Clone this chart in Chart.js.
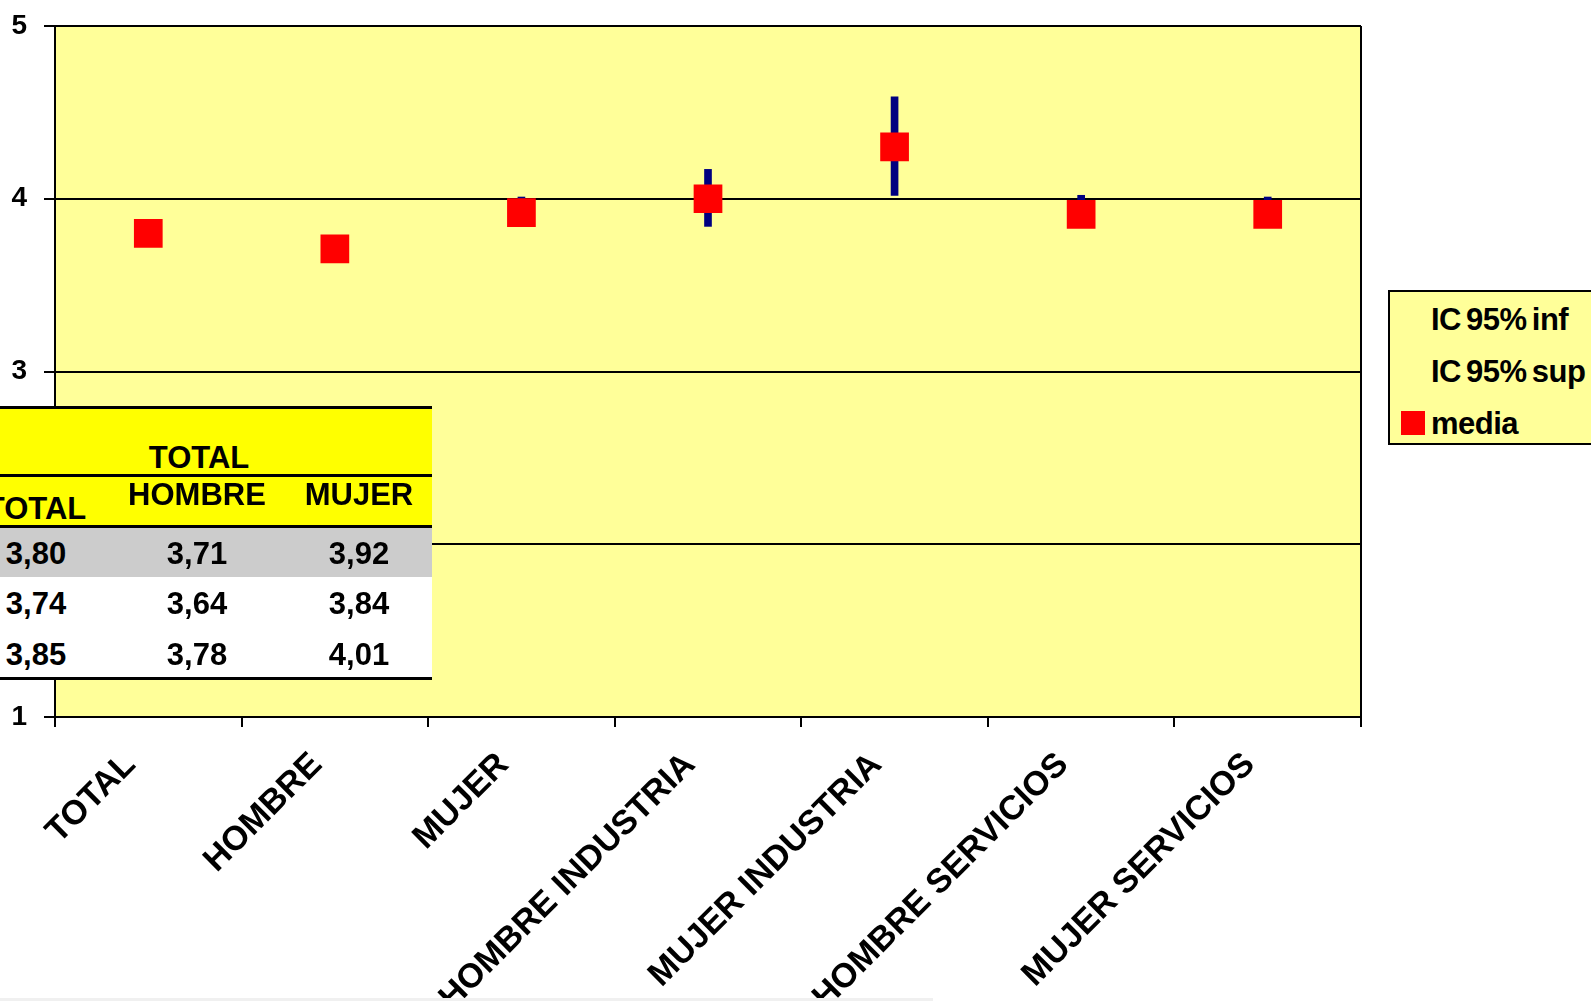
<!DOCTYPE html>
<html>
<head>
<meta charset="utf-8">
<script src="https://cdn.jsdelivr.net/npm/chart.js@4"></script>
<style>
  body { margin: 0; background: #fff; overflow: hidden; }
  #wrap { position: relative; width: 1591px; height: 1001px; overflow: hidden; }
  .t { position: absolute; font: bold 31px "Liberation Sans", Arial, sans-serif; line-height: 31px; color: #000; white-space: nowrap; }
  .c { text-align: center; }
  .blk { position: absolute; }
</style>
</head>
<body>
<div id="wrap">
  <canvas id="myChart"></canvas>
  <div id="tabla"></div>
  <div id="leyenda"></div>
</div>
<script>
const categorias = ["TOTAL", "HOMBRE", "MUJER", "HOMBRE INDUSTRIA", "MUJER INDUSTRIA", "HOMBRE SERVICIOS", "MUJER SERVICIOS"];
const media  = [3.80, 3.71, 3.92, 4.00, 4.30, 3.91, 3.91];
const icInf  = [3.74, 3.64, 3.84, 3.84, 4.02, 3.84, 3.85];
const icSup  = [3.85, 3.78, 4.01, 4.17, 4.59, 4.02, 4.01];
const series = ["IC 95% inf", "IC 95% sup", "media"];
const yTicks = [1, 2, 3, 4, 5];

// fondo amarillo del area del grafico + marco derecho
const plotBg = {
  id: "plotBg",
  beforeDraw(chart) {
    const { ctx, chartArea: a } = chart;
    ctx.save();
    ctx.fillStyle = "#FFFF99";
    ctx.fillRect(a.left, a.top, a.width, a.height);
    ctx.restore();
  },
  beforeDatasetsDraw(chart) {
    const { ctx, chartArea: a } = chart;
    ctx.save();
    ctx.strokeStyle = "#000";
    ctx.lineWidth = 2;
    ctx.beginPath();
    ctx.moveTo(a.right, a.top);
    ctx.lineTo(a.right, a.bottom);
    ctx.stroke();
    ctx.restore();
  }
};

new Chart("myChart", {
  type: "bar",
  data: {
    labels: categorias,
    datasets: [{
      type: "line",
      label: series[2],
      data: media,
      showLine: false,
      pointStyle: "rect",
      pointRadius: 20.3,
      pointBorderWidth: 0,
      backgroundColor: "#FF0000",
      borderColor: "#FF0000",
      order: 0
    }, {
      label: series[0] + " / " + series[1],
      data: categorias.map((c, i) => [icInf[i], icSup[i]]),
      backgroundColor: "#000080",
      barThickness: 7,
      order: 1
    }]
  },
  options: {
    responsive: true,
    maintainAspectRatio: false,
    animation: false,
    layout: { padding: { left: 0, top: 26, right: 230, bottom: 0 } },
    plugins: {
      legend: { display: false },
      tooltip: { enabled: false }
    },
    scales: {
      x: {
        offset: true,
        grid: { offset: true, drawOnChartArea: false, color: "#000", lineWidth: 2, tickLength: 10 },
        border: { color: "#000", width: 2 },
        ticks: {
          color: "#000",
          font: { family: "Liberation Sans", size: 34, weight: "bold" },
          maxRotation: 45, minRotation: 45,
          padding: 18,
          labelOffset: -18,
          autoSkip: false
        },
        afterFit(s) { s.height = 284; s.paddingLeft = 0; s.paddingRight = 0; }
      },
      y: {
        min: 1, max: 5,
        afterBuildTicks(s) { s.ticks = yTicks.map(v => ({ value: v })); },
        grid: { color: "#000", lineWidth: 2, tickLength: 11 },
        border: { color: "#000", width: 2 },
        ticks: {
          color: "#000",
          padding: 17,
          font: { family: "Liberation Sans", size: 28, weight: "bold" }
        },
        afterFit(s) { s.width = 55; s.paddingTop = 0; s.paddingBottom = 0; }
      }
    }
  },
  plugins: [plotBg]
});

// tabla superpuesta
const fmt = v => v.toFixed(2).replace(".", ",");
const tabla = document.getElementById("tabla");
function caja(x, y, w, h, bg) {
  const d = document.createElement("div");
  d.className = "blk";
  d.style.cssText = `left:${x}px;top:${y}px;width:${w}px;height:${h}px;background:${bg}`;
  tabla.appendChild(d);
}
function texto(txt, cx, capTop) {
  const d = document.createElement("div");
  d.className = "t c";
  d.style.left = (cx - 100) + "px";
  d.style.width = "200px";
  d.style.top = (capTop - 4) + "px";
  d.textContent = txt;
  tabla.appendChild(d);
}
caja(0, 407, 432, 68, "#FFFF00");
caja(0, 475, 432, 51, "#FFFF00");
caja(0, 526, 432, 51, "#CCCCCC");
caja(0, 577, 432, 102, "#FFFFFF");
caja(0, 406, 432, 3, "#000");
caja(0, 474, 432, 3, "#000");
caja(0, 525, 432, 3, "#000");
caja(0, 677, 432, 3, "#000");
const colX = [36, 197, 359];
const tablaCols = categorias.slice(0, 3);
texto(tablaCols[0], 199, 446);
texto(tablaCols[0], colX[0], 497);
texto(tablaCols[1], colX[1], 483);
texto(tablaCols[2], colX[2], 483);
[media, icInf, icSup].forEach((fila, r) => {
  for (let c = 0; c < 3; c++) texto(fmt(fila[c]), colX[c], [542, 592, 643][r]);
});

// leyenda
const ley = document.getElementById("leyenda");
ley.style.cssText = "position:absolute;left:1388px;top:290px;width:230px;height:151px;background:#FFFF99;border:2px solid #000;";
series.forEach((s, i) => {
  const d = document.createElement("div");
  d.className = "t";
  d.style.left = "41px";
  d.style.top = (12 + i * 52) + "px";
  d.style.letterSpacing = "-0.5px";
  d.style.wordSpacing = "-3px";
  d.textContent = s;
  ley.appendChild(d);
  if (i === 2) {
    const m = document.createElement("div");
    m.style.cssText = "position:absolute;left:11px;top:119px;width:24px;height:24px;background:#FF0000";
    ley.appendChild(m);
  }
});

const franja = document.createElement("div");
franja.style.cssText = "position:absolute;left:0;top:998px;width:933px;height:3px;background:#F0F0F0";
document.getElementById("wrap").appendChild(franja);
</script>
</body>
</html>
